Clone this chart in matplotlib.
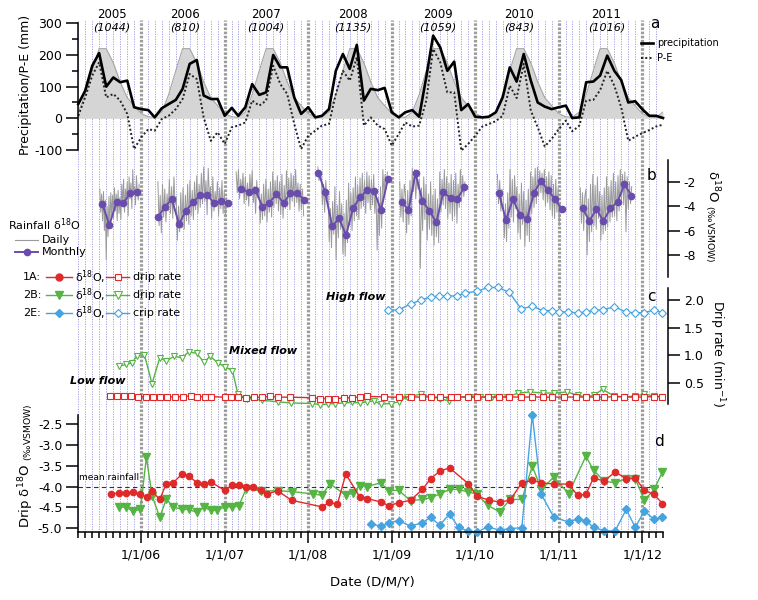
import numpy as np
import pandas as pd
import matplotlib
matplotlib.use("Agg")
import matplotlib.pyplot as plt
from matplotlib.lines import Line2D
from matplotlib.ticker import MultipleLocator, FixedLocator, NullLocator

plt.rcParams["font.family"] = "DejaVu Sans"
plt.rcParams["axes.unicode_minus"] = False

W, H = 758, 600

# ---------------- data ----------------
# panel a: monthly totals from Apr 2005 to Apr 2012 (mm)
precip = [45, 87, 166, 206, 100, 129, 114, 119, 35, 29, 26, 3,
          32, 45, 58, 93, 172, 184, 72, 61, 61, 8, 33, 8,
          35, 108, 74, 82, 200, 161, 161, 66, 14, 35, 3, 8,
          29, 150, 203, 156, 232, 56, 93, 89, 96, 19, 3, 19,
          26, 5, 130, 261, 224, 150, 179, 26, 45, 5, 3, 5,
          19, 66, 161, 116, 203, 119, 50, 37, 29, 35, 40, 1,
          3, 114, 116, 135, 198, 150, 121, 50, 54, 29, 8, 8, 1]
p_minus_e = [8, 66, 135, 177, 66, 77, 56, 14, -97, -60, -34, -39,
             -2, 8, 29, 61, 140, 124, 3, -71, -44, -81, -28, -23,
             -13, 56, 40, 56, 166, 108, 77, -18, -97, -55, -39, -23,
             -18, 77, 150, 119, 193, -23, 3, -23, -34, -86, -49, -13,
             -26, -23, 56, 219, 177, 82, 82, -102, -81, -55, -26, -18,
             -9, 8, 103, 64, 172, 24, -28, -89, -65, -34, -7, -41,
             -23, 56, 58, 89, 150, 103, 35, -71, -58, -47, -37, -26, -20]
# long-term monthly mean precipitation, Jan..Dec
clim = [15, 5, 3, 20, 75, 150, 220, 220, 175, 115, 65, 40]

years = ["2005", "2006", "2007", "2008", "2009", "2010", "2011"]
year_totals = ["(1044)", "(810)", "(1004)", "(1135)", "(1059)", "(843)", "(1016)"]
year_label_t = [2005.65, 2006.53, 2007.49, 2008.53, 2009.55, 2010.53, 2011.57]

# panel b: rainfall d18O, monthly (first month, values)
rain_2005 = ("2005-07", [-3.8, -5.55, -3.65, -3.75, -2.9, -2.87])
rain_2006 = ("2006-03", [-4.87, -4.05, -3.42, -5.47, -4.38, -3.69, -3.09, -3.09, -3.72, -3.56, -3.77])
rain_2007 = ("2007-03", [-2.63, -2.82, -2.68, -4.05, -3.72, -3.01, -3.72, -2.95, -2.95, -3.5])
rain_2008 = ("2008-02", [-1.26, -2.87, -5.63, -5.0, -6.37, -4.18, -3.28, -2.68, -2.74, -4.32, -1.8])
rain_2009 = ("2009-02", [-3.69, -4.32, -1.31, -3.58, -4.38, -5.33, -2.82, -3.36, -3.42, -2.41])
rain_2010 = ("2010-04", [-2.95, -5.14, -3.42, -4.73, -5.06, -2.9, -1.94, -2.68, -3.42, -4.26])
rain_2011 = ("2011-04", [-4.18, -5.2, -4.24, -5.22, -4.18, -3.64, -2.22, -3.14])

# panel b: rainfall d18O, daily events (first day, sampling step, values)
daily_2005 = ("2005-07-04", "4D",
              [-2.6, -4.5, -3.0, -5.2, -2.8, -6.0, -3.5, -8.4, -4.0, -6.5, -3.2, -5.8,
               -2.9, -4.8, -3.1, -5.0, -2.5, -4.4, -3.0, -5.2, -2.7, -4.6, -3.3, -5.1,
               -2.2, -3.9, -1.8, -4.5, -2.6, -3.6, -2.0, -4.8, -1.6, -3.4, -2.1, -4.2,
               -1.0, -3.0, -2.4, -3.9, -1.5, -2.8, -3.5, -2.2])
daily_2006 = ("2006-03-15", "5D",
              [-2.0, -5.6, -3.1, -6.2, -2.2, -4.9, -2.6, -5.3, -3.0, -4.4,
               -1.8, -4.6, -2.4, -5.0, -1.6, -3.9, -3.2, -6.8, -4.0, -6.1, -2.9, -5.8,
               -2.5, -5.9, -3.1, -5.2, -2.2, -5.5, -1.9, -4.8, -2.7, -5.1, -2.0, -4.3,
               -1.5, -4.6, -2.2, -4.1, -1.3, -3.8, -0.8, -3.6, -1.9, -4.7, -0.9, -3.3,
               -2.4, -5.0, -1.6, -4.4, -2.8, -3.9, -2.0, -4.8, -2.5, -4.2, -1.9, -4.6,
               -2.8, -4.9, -3.3, -4.1])
daily_2007 = ("2007-02-20", "5D",
              [-1.2, -2.9, -1.0, -3.4, -1.8, -2.9, -1.3, -3.8, -1.6, -3.5, -2.1, -4.0,
               -1.4, -3.1, -1.1, -3.7, -2.4, -4.6, -1.9, -3.3, -2.5, -5.4, -3.0, -5.1,
               -2.2, -4.8, -1.8, -5.3, -2.6, -4.5, -2.0, -4.9, -1.2, -4.1, -1.9, -3.8,
               -1.5, -4.4, -2.0, -4.7, -1.4, -5.0, -2.3, -4.2, -1.1, -3.9, -1.7, -4.3,
               -1.3, -3.6, -1.5, -4.0, -1.0, -3.7, -2.1, -4.4, -2.2, -4.3, -2.6, -4.8])
daily_2008 = ("2008-02-12", "5D",
              [-0.8, -1.9, -1.2, -1.6, -3.9, -2.2, -4.5, -1.9, -3.4, -3.0, -6.9, -4.2,
               -7.4, -3.6, -6.3, -2.4, -8.4, -3.9, -6.6, -2.8, -5.9, -3.8, -7.9, -4.6,
               -8.1, -3.5, -7.0, -2.1, -5.6, -2.9, -6.0, -2.5, -5.2, -1.6, -4.8, -2.3,
               -5.1, -1.7, -4.2, -1.3, -4.0, -1.9, -4.6, -1.2, -3.7, -1.5, -4.3, -1.8,
               -3.9, -1.4, -4.6, -2.6, -7.6, -3.3, -6.4, -2.4, -5.8, -1.0, -3.1, -1.4,
               -2.6, -1.2])
daily_2009 = ("2009-02-05", "5D",
              [-2.0, -4.9, -2.6, -5.3, -2.2, -3.0, -6.2, -2.7, -5.5, -1.9, -4.8,
               -0.9, -2.8, -1.0, -3.4, -1.5, -2.6, -1.8, -9.1, -2.5, -6.0, -1.6, -5.1,
               -2.2, -6.8, -3.0, -5.9, -2.0, -6.4, -3.1, -7.2, -2.6, -6.5, -3.4, -7.0,
               -1.2, -4.5, -1.8, -3.9, -1.0, -4.2, -1.6, -5.0, -2.1, -4.6, -1.4, -5.2,
               -1.9, -4.8, -1.3, -5.4, -2.2, -4.1, -1.0, -3.6, -1.5, -3.2, -2.0])
daily_2010 = ("2010-04-08", "5D",
              [-1.4, -3.8, -1.9, -4.4, -2.6, -3.3, -6.6, -3.8, -6.9, -2.9, -5.8,
               -1.0, -4.9, -1.8, -5.3, -1.5, -4.2, -2.4, -6.2, -3.0, -6.7, -2.1, -5.5,
               -2.8, -7.3, -3.5, -6.4, -2.6, -6.9, -1.2, -4.6, -1.6, -4.1, -0.9, -3.8,
               -0.8, -3.2, -1.1, -2.9, -1.3, -3.5, -1.0, -4.0, -1.6, -3.7, -1.2, -4.3,
               -1.5, -4.8, -2.2, -5.0, -1.8, -4.5, -2.5, -5.6, -3.9])
daily_2011 = ("2011-04-05", "5D",
              [-2.5, -5.4, -2.9, -6.0, -3.2, -2.6, -8.0, -3.4, -6.9, -2.2, -6.1,
               -1.4, -5.6, -2.3, -5.9, -1.6, -5.0, -2.8, -6.8, -3.1, -6.3, -2.5, -6.0,
               -1.6, -5.7, -2.4, -5.3, -1.9, -4.9, -1.3, -4.8, -2.0, -5.2, -1.5, -4.4,
               -1.0, -3.5, -1.4, -3.9, -1.2, -6.1, -1.6, -4.2, -2.0, -3.8, -2.4])

# panel c: drip rates (decimal year, drips per minute)
t_1a_rate = [2005.630, 2005.708, 2005.798, 2005.875, 2005.958, 2006.058, 2006.142, 2006.225,
             2006.308, 2006.408, 2006.500, 2006.592, 2006.667, 2006.758, 2006.833, 2007.000,
             2007.075, 2007.158, 2007.258, 2007.350, 2007.450, 2007.542, 2007.633, 2007.783,
             2008.050, 2008.142, 2008.233, 2008.325, 2008.425, 2008.525, 2008.617, 2008.708,
             2008.908, 2009.083, 2009.225, 2009.367, 2009.467, 2009.583, 2009.708, 2009.783,
             2009.908, 2010.025, 2010.150, 2010.283, 2010.408, 2010.550, 2010.683, 2010.808,
             2010.925, 2011.067, 2011.208, 2011.325, 2011.442, 2011.542, 2011.667, 2011.783,
             2011.908, 2012.025, 2012.142, 2012.242]
rate_1a = [0.255, 0.26, 0.255, 0.255, 0.24, 0.245, 0.235, 0.24,
           0.24, 0.24, 0.245, 0.255, 0.24, 0.245, 0.245, 0.235,
           0.235, 0.235, 0.225, 0.23, 0.235, 0.25, 0.235, 0.235,
           0.225, 0.21, 0.21, 0.21, 0.22, 0.225, 0.24, 0.25,
           0.24, 0.235, 0.24, 0.235, 0.24, 0.23, 0.235, 0.24,
           0.235, 0.235, 0.24, 0.235, 0.24, 0.235, 0.24, 0.235,
           0.235, 0.24, 0.235, 0.24, 0.235, 0.235, 0.245, 0.24,
           0.235, 0.24, 0.245, 0.24]
t_2b_rate = [2005.730, 2005.822, 2005.890, 2005.950, 2006.038, 2006.129, 2006.222, 2006.300,
             2006.392, 2006.492, 2006.567, 2006.667, 2006.750, 2006.825, 2006.917, 2007.008,
             2007.092, 2007.158, 2007.267, 2007.442, 2007.633, 2007.792, 2008.050, 2008.142,
             2008.233, 2008.325, 2008.425, 2008.525, 2008.617, 2008.708, 2008.783, 2008.867,
             2008.992, 2009.083, 2009.183, 2009.350, 2009.467, 2009.583, 2009.683, 2009.783,
             2009.942, 2010.058, 2010.200, 2010.383, 2010.517, 2010.658, 2010.808, 2010.942,
             2011.100, 2011.225, 2011.325, 2011.417, 2011.525, 2011.667, 2011.783, 2011.908,
             2012.025, 2012.142, 2012.242]
rate_2b = [0.80, 0.83, 0.86, 0.99, 1.01, 0.48, 0.95, 0.89,
           0.98, 0.95, 1.06, 1.03, 0.87, 0.98, 0.86, 0.78,
           0.72, 0.29, 0.21, 0.18, 0.15, 0.13, 0.12, 0.10,
           0.11, 0.12, 0.13, 0.14, 0.13, 0.15, 0.17, 0.11,
           0.12, 0.15, 0.24, 0.29, 0.24, 0.21, 0.165, 0.24,
           0.24, 0.23, 0.24, 0.24, 0.31, 0.33, 0.31, 0.31,
           0.33, 0.27, 0.24, 0.27, 0.375, 0.255, 0.24, 0.255,
           0.29, 0.255, 0.24]
t_2e_rate = [2008.950, 2009.083, 2009.225, 2009.350, 2009.467, 2009.567, 2009.667, 2009.783,
             2009.883, 2010.025, 2010.150, 2010.275, 2010.408, 2010.550, 2010.683, 2010.808,
             2010.925, 2011.008, 2011.108, 2011.225, 2011.325, 2011.417, 2011.525, 2011.667,
             2011.808, 2011.908, 2012.017, 2012.142, 2012.242]
rate_2e = [1.82, 1.82, 1.93, 2.00, 2.06, 2.07, 2.07, 2.08,
           2.13, 2.16, 2.23, 2.23, 2.14, 1.84, 1.89, 1.81,
           1.81, 1.79, 1.78, 1.77, 1.78, 1.82, 1.82, 1.88,
           1.78, 1.77, 1.77, 1.82, 1.77]

# panel d: drip water d18O (decimal year, permil VSMOW)
t_1a_d18o = [2005.642, 2005.738, 2005.822, 2005.902, 2005.982, 2006.070, 2006.130, 2006.222,
             2006.300, 2006.383, 2006.492, 2006.567, 2006.667, 2006.750, 2006.833, 2007.000,
             2007.092, 2007.167, 2007.258, 2007.342, 2007.433, 2007.508, 2007.633, 2007.800,
             2008.167, 2008.250, 2008.350, 2008.450, 2008.617, 2008.708, 2008.867, 2008.967,
             2009.083, 2009.225, 2009.367, 2009.467, 2009.575, 2009.692, 2009.917, 2010.017,
             2010.167, 2010.292, 2010.417, 2010.558, 2010.683, 2010.792, 2010.942, 2011.117,
             2011.225, 2011.325, 2011.417, 2011.542, 2011.675, 2011.808, 2011.917, 2012.025,
             2012.142, 2012.242]
d18o_1a = [-4.18, -4.15, -4.15, -4.13, -4.19, -4.25, -4.11, -4.31,
           -3.93, -3.91, -3.69, -3.74, -3.91, -3.94, -3.89, -4.09,
           -3.97, -3.97, -4.02, -4.02, -4.09, -4.18, -4.10, -4.33,
           -4.49, -4.38, -4.42, -3.70, -4.25, -4.29, -4.37, -4.46,
           -4.39, -4.33, -4.07, -3.81, -3.63, -3.55, -3.93, -4.23,
           -4.33, -4.37, -4.33, -3.91, -3.85, -3.91, -3.94, -3.94,
           -4.21, -4.19, -3.79, -3.87, -3.65, -3.81, -3.79, -4.09,
           -4.19, -4.41]
t_2b_d18o = [2005.730, 2005.822, 2005.902, 2005.990, 2006.062, 2006.130, 2006.222, 2006.300,
             2006.383, 2006.492, 2006.567, 2006.667, 2006.750, 2006.833, 2006.908, 2007.000,
             2007.092, 2007.167, 2007.258, 2007.433, 2007.633, 2007.800, 2008.058, 2008.167,
             2008.258, 2008.450, 2008.533, 2008.617, 2008.708, 2008.867, 2008.967, 2009.083,
             2009.225, 2009.367, 2009.467, 2009.575, 2009.692, 2009.800, 2009.917, 2010.017,
             2010.150, 2010.292, 2010.417, 2010.558, 2010.683, 2010.792, 2010.942, 2011.117,
             2011.325, 2011.417, 2011.542, 2011.675, 2011.808, 2011.917, 2012.025, 2012.142,
             2012.242]
d18o_2b = [-4.49, -4.50, -4.59, -4.55, -3.30, -4.22, -4.74, -4.30,
           -4.49, -4.55, -4.55, -4.62, -4.50, -4.57, -4.57, -4.49,
           -4.49, -4.47, -4.05, -4.11, -4.10, -4.12, -4.18, -4.21,
           -3.93, -4.21, -4.15, -3.98, -4.00, -3.91, -4.10, -4.09,
           -4.34, -4.31, -4.27, -4.18, -4.07, -4.07, -4.13, -4.18,
           -4.45, -4.61, -4.31, -4.31, -3.51, -4.07, -3.77, -4.17,
           -3.27, -3.61, -3.87, -3.91, -3.81, -3.81, -4.33, -4.07,
           -3.65]
t_2e_d18o = [2008.750, 2008.867, 2008.967, 2009.083, 2009.225, 2009.367, 2009.467, 2009.575,
             2009.692, 2009.800, 2009.917, 2010.017, 2010.150, 2010.292, 2010.417, 2010.558,
             2010.683, 2010.792, 2010.942, 2011.117, 2011.225, 2011.325, 2011.417, 2011.542,
             2011.675, 2011.808, 2011.917, 2012.025, 2012.142, 2012.242]
d18o_2e = [-4.90, -4.95, -4.87, -4.82, -4.95, -4.87, -4.74, -4.93,
           -4.66, -4.98, -5.07, -5.10, -4.97, -5.05, -5.01, -4.99,
           -2.28, -4.19, -4.74, -4.85, -4.78, -4.82, -4.98, -5.06,
           -5.07, -4.55, -4.98, -4.59, -4.79, -4.74]
mean_rain_d18o = -4.0

# ---------------- helpers ----------------
RED, GREEN, BLUE, PURPLE = "#e02a2a", "#55b444", "#45a4e0", "#6a4cad"
DAILY_GREY = "#9a9a9a"


def dec(dates):
    d = pd.DatetimeIndex(dates)
    return np.asarray(d.year + (d.dayofyear - 1) / np.where(d.is_leap_year, 366, 365))


def rect(x0, y0, x1, y1):
    return [x0 / W, 1 - y1 / H, (x1 - x0) / W, (y1 - y0) / H]


def ftext(x, y, s, **kw):
    kw.setdefault("va", "center")
    return fig.text(x / W, 1 - y / H, s, **kw)


def key(x0, x1, y, **kw):
    # legend sample drawn in figure pixels
    xs = [x0 / W, (x0 + x1) / 2 / W, x1 / W]
    fig.add_artist(Line2D(xs, [1 - y / H] * 3, transform=fig.transFigure,
                          markevery=[1], **kw))


months = pd.date_range("2005-04-01", "2012-04-01", freq="MS")
t_m = dec(months)
XMIN, XMAX = t_m[0], t_m[-1]

fig = plt.figure(figsize=(W / 100, H / 100), dpi=100)

# background: monthly and yearly guide lines across all panels
axbg = fig.add_axes(rect(78.3, 20, 663, 532.3))
axbg.set_xlim(XMIN, XMAX)
axbg.set_ylim(0, 1)
axbg.axis("off")
for d, t in zip(months, t_m):
    if d.month == 1:
        axbg.axvline(t, color="#9c9c9c", lw=2.3, ls=(0, (0.8, 0.5)), zorder=2)
    else:
        axbg.axvline(t, color="#9494dc", lw=0.6, ls=(0, (1.5, 1.5)), zorder=1)
for t, y, tot in zip(year_label_t, years, year_totals):
    axbg.annotate(y, (t, 1), xytext=(0, 6), textcoords="offset pixels",
                  ha="center", va="center", fontsize=8.5, annotation_clip=False)
    axbg.annotate(tot, (t, 1), xytext=(0, -8), textcoords="offset pixels",
                  ha="center", va="center", fontsize=8, style="italic",
                  annotation_clip=False)


def style_axis(ax, side):
    ax.patch.set_alpha(0)
    ax.set_xlim(XMIN, XMAX)
    for s in ["top", "bottom", "left", "right"]:
        ax.spines[s].set_visible(s == side)
    ax.spines[side].set_linewidth(1.1)
    ax.tick_params(axis="x", which="both", bottom=False, labelbottom=False)
    ax.yaxis.set_ticks_position(side)
    ax.tick_params(axis="y", which="major", direction="out", length=8.5, width=1.1,
                   labelsize=9, pad=3)
    ax.tick_params(axis="y", which="minor", direction="out", length=4.5, width=1.1)


# ---------------- panel a ----------------
axa = fig.add_axes(rect(78.3, 23.3, 663, 150))
style_axis(axa, "left")
axa.set_ylim(-100, 300)
axa.yaxis.set_major_locator(MultipleLocator(100))
axa.yaxis.set_minor_locator(MultipleLocator(50))
clim_series = [clim[d.month - 1] for d in months]
axa.fill_between(t_m, 0, clim_series, color="#d5d5d5", lw=0, zorder=1)
axa.plot(t_m, clim_series, color="#a5a5a5", lw=0.8, zorder=1)
axa.plot(t_m, p_minus_e, color="#222222", lw=1.4, ls=(0, (1, 1.2)), zorder=2, clip_on=False)
axa.plot(t_m, precip, color="black", lw=1.9, zorder=3, clip_on=False)
ftext(26, 85, "Precipitation/P-E (mm)", rotation=90, ha="center", fontsize=9)
ftext(655, 24, "a", ha="center", fontsize=11)
key(640.7, 652.7, 43.3, color="black", lw=1.9)
key(640.7, 652.7, 58.3, color="#222222", lw=1.4, ls=(0, (1, 1.2)))
ftext(657.3, 43.3, "precipitation", fontsize=7)
ftext(657.3, 58.3, "P-E", fontsize=7)

# ---------------- panel b ----------------
axb = fig.add_axes(rect(78.3, 160, 663, 276.5))
style_axis(axb, "right")
axb.spines["right"].set_position(("outward", 3.4))
axb.set_ylim(-9.76, -0.22)
axb.yaxis.set_major_locator(FixedLocator([-2, -4, -6, -8]))
axb.yaxis.set_minor_locator(NullLocator())
for start, step, vals in [daily_2005, daily_2006, daily_2007, daily_2008,
                          daily_2009, daily_2010, daily_2011]:
    td = dec(pd.date_range(start, periods=len(vals), freq=step))
    axb.plot(td, vals, color=DAILY_GREY, lw=0.7, zorder=1)
for start, vals in [rain_2005, rain_2006, rain_2007, rain_2008,
                    rain_2009, rain_2010, rain_2011]:
    tm = dec(pd.date_range(start + "-01", periods=len(vals), freq="MS") + pd.Timedelta(days=14))
    axb.plot(tm, vals, color=PURPLE, lw=1.4, marker="o", ms=4.5, zorder=2)
ftext(651.7, 175, "b", ha="center", fontsize=11)
ftext(712, 216, r"δ$^{18}$O $_{(‰\mathrm{VSMOW})}$", rotation=270, ha="center", fontsize=9.5)

ftext(8, 225, r"Rainfall δ$^{18}$O", fontsize=8)
key(15, 38, 239.5, color=DAILY_GREY, lw=0.8)
ftext(41.5, 240, "Daily", fontsize=8)
key(15, 38, 252.3, color=PURPLE, lw=1.4, marker="o", ms=4.5)
ftext(41.5, 252.3, "Monthly", fontsize=8)

# ---------------- panel c ----------------
axc = fig.add_axes(rect(78.3, 288, 663, 403.5))
style_axis(axc, "right")
axc.spines["right"].set_position(("outward", 3.4))
axc.set_ylim(0.12, 2.22)
axc.yaxis.set_major_locator(FixedLocator([0.5, 1.0, 1.5, 2.0]))
axc.yaxis.set_minor_locator(NullLocator())
axc.plot(t_1a_rate, rate_1a, color=RED, lw=1.0, marker="s", ms=4.5, mfc="white",
         mec=RED, mew=0.8, clip_on=False, zorder=3)
axc.plot(t_2b_rate, rate_2b, color=GREEN, lw=1.0, marker="v", ms=5, mfc="white",
         mec=GREEN, mew=0.8, clip_on=False, zorder=2)
axc.plot(t_2e_rate, rate_2e, color=BLUE, lw=1.0, marker="D", ms=4.2, mfc="white",
         mec=BLUE, mew=0.8, clip_on=False, zorder=2)
ftext(651.7, 296.7, "c", ha="center", fontsize=11)
ftext(717, 354, r"Drip rate (min$^{-1}$)", rotation=270, ha="center", fontsize=9)
ftext(70, 381, "Low flow", fontsize=8, weight="bold", style="italic")
ftext(229, 350.7, "Mixed flow", fontsize=8, weight="bold", style="italic")
ftext(326, 297.3, "High flow", fontsize=8, weight="bold", style="italic")

# drip legend
rows = [("1A:", 277.3, RED, "o", "s", "drip rate", 5.0),
        ("2B:", 295.0, GREEN, "v", "v", "drip rate", 5.5),
        ("2E:", 313.3, BLUE, "D", "D", "crip rate", 4.5)]
for lab, y, col, mk_f, mk_o, rate_lab, ms in rows:
    ftext(41, y, lab, ha="right", fontsize=8)
    key(46, 72, y, color=col, lw=1.0, marker=mk_f, ms=ms, mec=col)
    ftext(75, y, r"δ$^{18}$O,", fontsize=8)
    key(106, 129, y, color=col, lw=1.0, marker=mk_o, ms=ms, mfc="white", mec=col, mew=0.8)
    ftext(133, y, rate_lab, fontsize=8)

# ---------------- panel d ----------------
axd = fig.add_axes(rect(78.3, 415, 663, 532.3))
style_axis(axd, "left")
axd.spines["bottom"].set_visible(True)
axd.spines["bottom"].set_linewidth(1.1)
axd.set_ylim(-5.10, -2.28)
axd.yaxis.set_major_locator(FixedLocator([-2.5, -3.0, -3.5, -4.0, -4.5, -5.0]))
axd.yaxis.set_minor_locator(NullLocator())
axd.yaxis.set_major_formatter(plt.FuncFormatter(lambda v, p: f"{v:.1f}"))
axd.axhline(mean_rain_d18o, color="#333333", lw=0.8, ls=(0, (4, 3)), zorder=1)
axd.plot(t_1a_d18o, d18o_1a, color=RED, lw=1.0, marker="o", ms=4.5, clip_on=False, zorder=3)
axd.plot(t_2b_d18o, d18o_2b, color=GREEN, lw=1.0, marker="v", ms=5.5, clip_on=False, zorder=2)
axd.plot(t_2e_d18o, d18o_2e, color=BLUE, lw=1.0, marker="D", ms=4.2, clip_on=False, zorder=2)
jan = [d for d in months if d.month == 1]
axd.tick_params(axis="x", which="both", bottom=True, labelbottom=True, direction="out",
                width=1.1, labelsize=9, pad=4)
axd.tick_params(axis="x", which="major", length=8)
axd.tick_params(axis="x", which="minor", length=4)
axd.set_xticks(dec(jan), [f"{d.day}/{d.month}/{d:%y}" for d in jan])
axd.xaxis.set_minor_locator(FixedLocator(t_m))
ftext(79, 477, "mean rainfall", fontsize=6.5)
ftext(659.3, 441.7, "d", ha="center", fontsize=11)
ftext(26, 466, r"Drip δ$^{18}$O $_{(‰\mathrm{VSMOW})}$", rotation=90, ha="center", fontsize=9.5)
ftext(372, 581.7, "Date (D/M/Y)", ha="center", fontsize=9.5)

fig.savefig("out.png", dpi=100)
